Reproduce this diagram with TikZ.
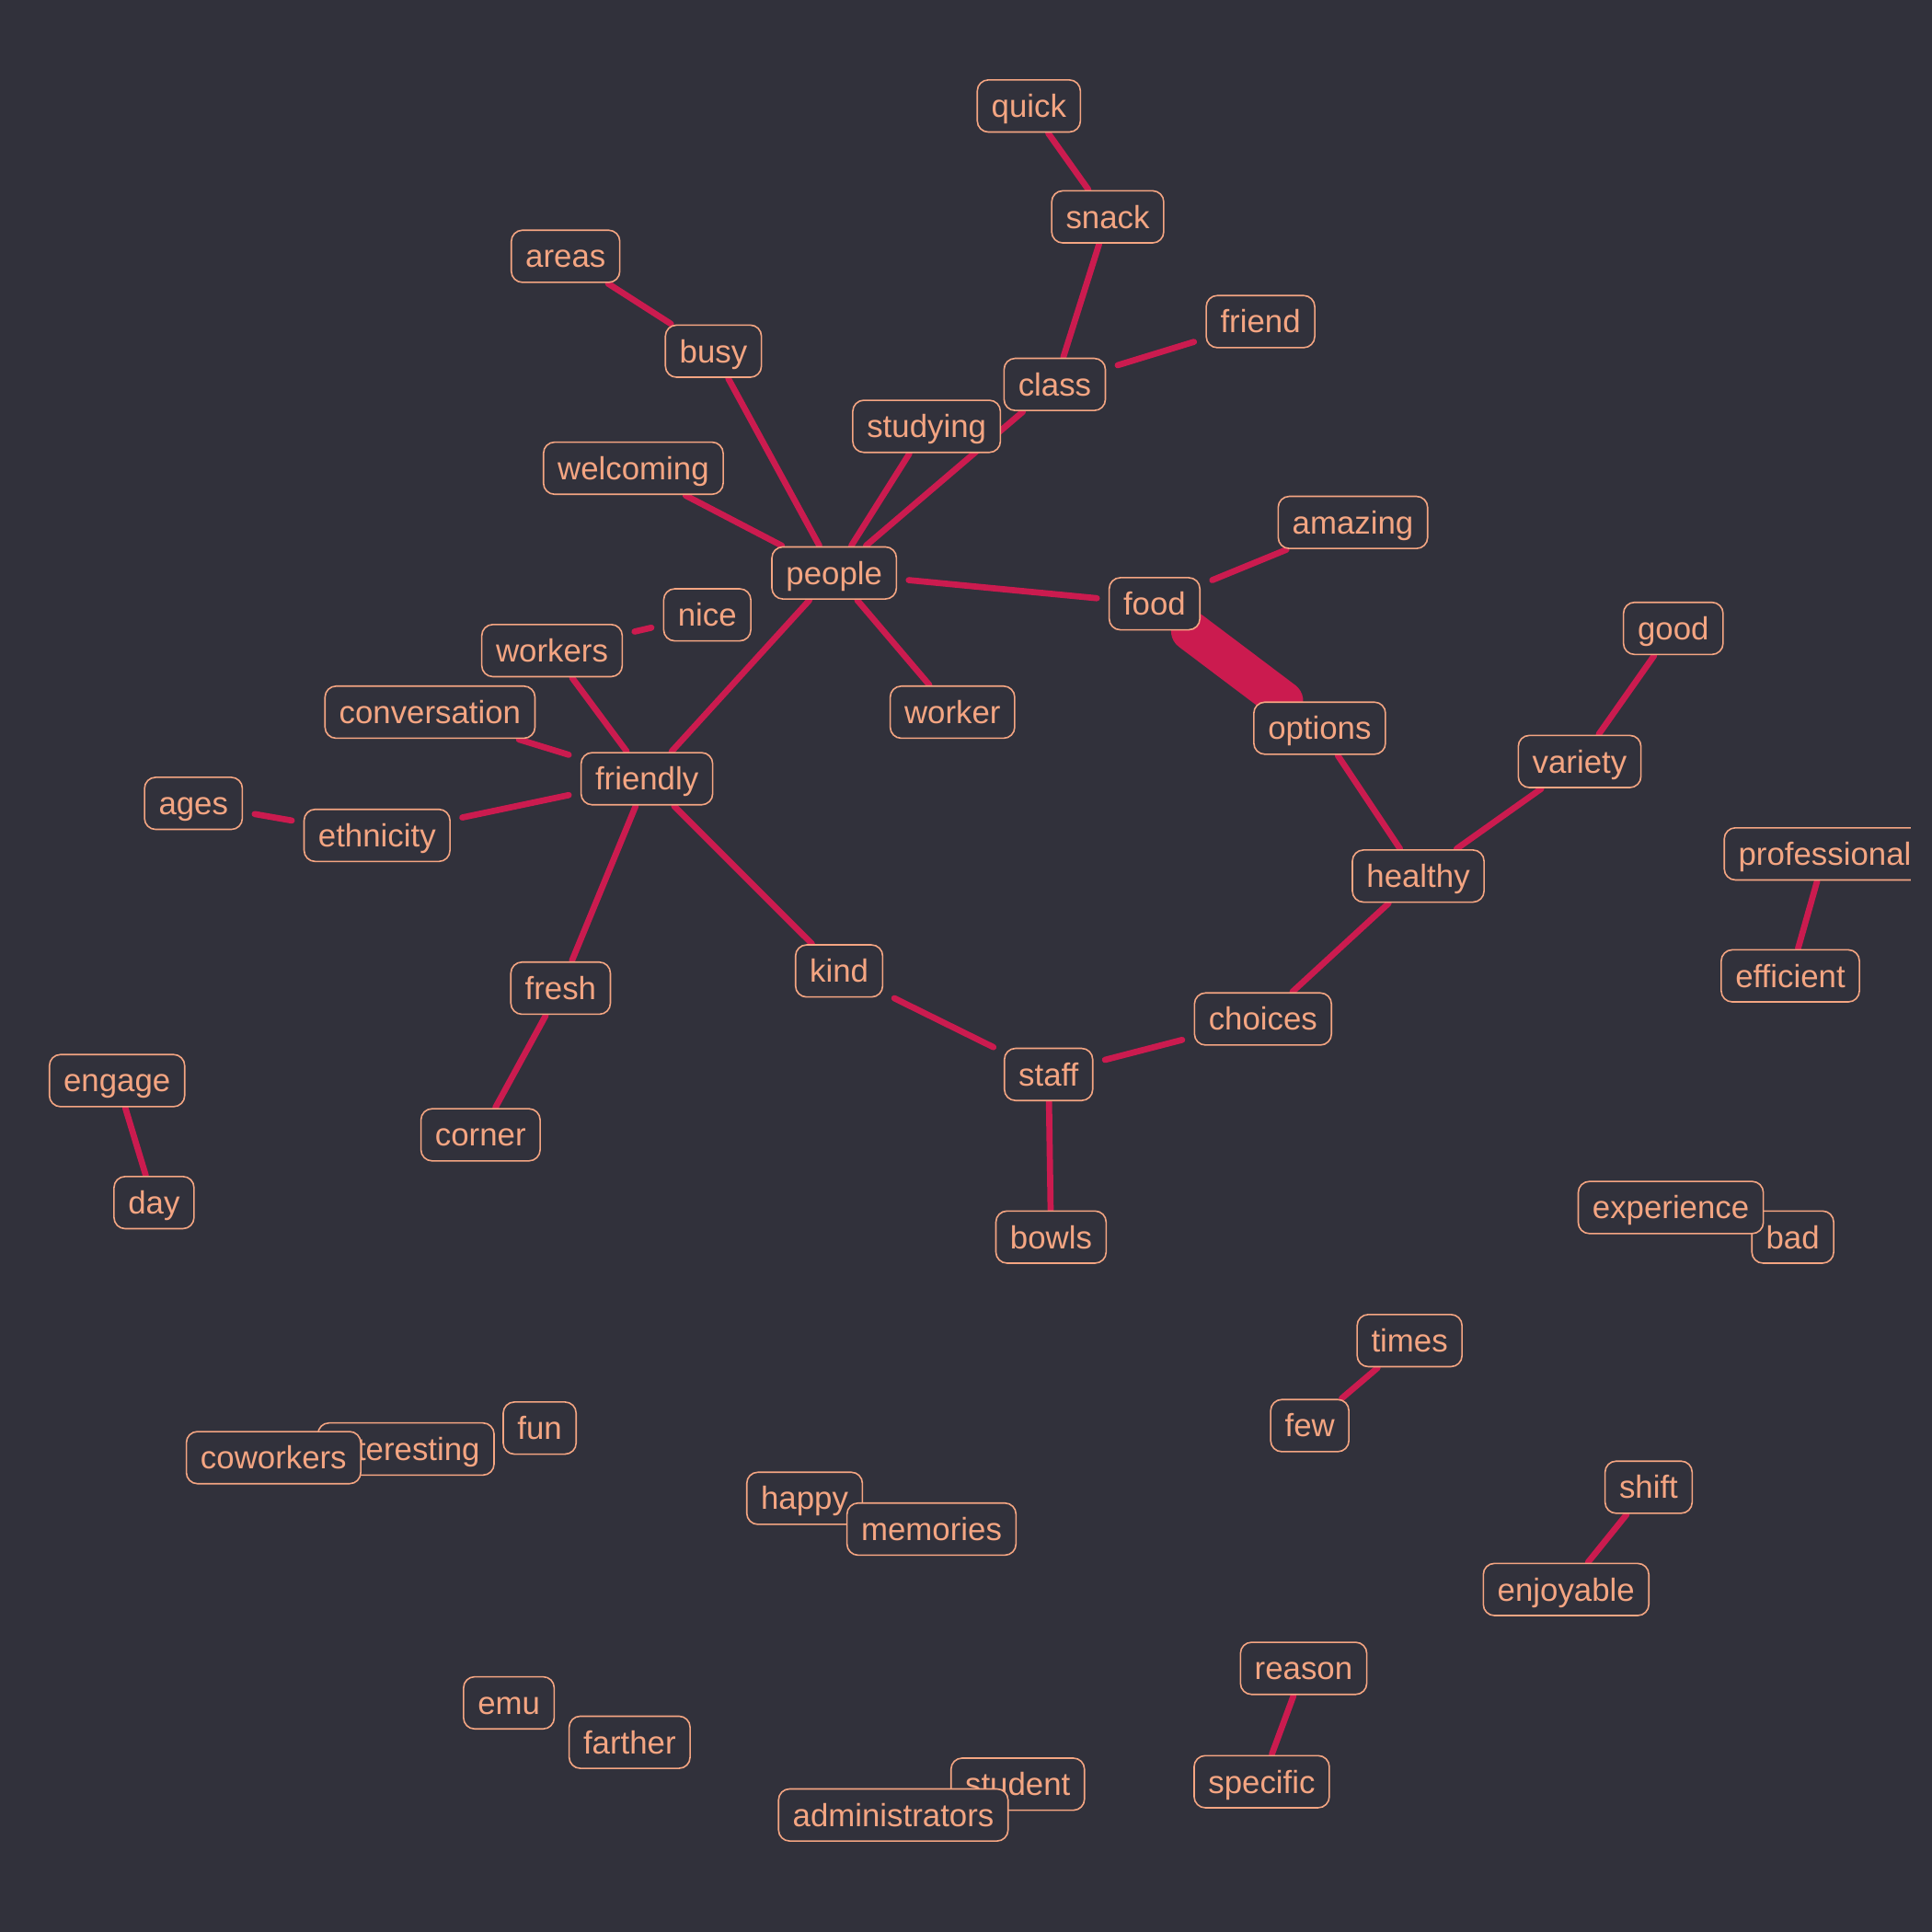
\documentclass[tikz,border=0pt]{standalone}
\usepackage{fontspec}
\setmainfont{Liberation Sans}
\definecolor{bgc}{HTML}{31313B}
\definecolor{txt}{HTML}{F4A582}
\definecolor{edg}{HTML}{CB1B4F}
\pgfdeclarelayer{bglayer}
\pgfdeclarelayer{edges}
\pgfsetlayers{bglayer,edges,main}
\begin{document}
\begin{tikzpicture}[x=1bp,y=-1bp,
  word/.style={draw=txt, text=txt, fill=bgc, rounded corners=9bp, line width=1.2bp,
    inner xsep=11.5bp, inner ysep=6.4bp, text height=24bp, text depth=5.5bp,
    outer xsep=10bp, outer ysep=1bp, font=\fontsize{26bp}{30bp}\selectfont},
  link/.style={draw=edg, line width=5bp, line cap=round},
  heavy/.style={draw=edg, line width=32bp, line cap=round}]
\begin{pgfonlayer}{bglayer}
\fill[bgc] (0,0) rectangle (1568,1568);
\end{pgfonlayer}
\useasboundingbox (0,0) rectangle (1568,1568);

\node[word] (quick) at (835,86) {quick};
\node[word] (snack) at (899,176) {snack};
\node[word] (areas) at (459,208) {areas};
\node[word] (friend) at (1023,261) {friend};
\node[word] (busy) at (579,285) {busy};
\node[word] (class) at (856,312) {class};
\node[word] (studying) at (752,346) {studying};
\node[word] (welcoming) at (514,380) {welcoming};
\node[word] (amazing) at (1098,424) {amazing};
\node[word] (people) at (677,465) {people};
\node[word] (food) at (937,490) {food};
\node[word] (nice) at (574,499) {nice};
\node[word] (good) at (1358,510) {good};
\node[word] (workers) at (448,528) {workers};
\node[word] (conversation) at (349,578) {conversation};
\node[word] (worker) at (773,578) {worker};
\node[word] (options) at (1071,591) {options};
\node[word] (variety) at (1282,618) {variety};
\node[word] (friendly) at (525,632) {friendly};
\node[word] (ages) at (157,652) {ages};
\node[word] (ethnicity) at (306,678) {ethnicity};
\node[word] (professional) at (1481,693) {professional};
\node[word] (healthy) at (1151,711) {healthy};
\node[word] (efficient) at (1453,792) {efficient};
\node[word] (fresh) at (455,802) {fresh};
\node[word] (kind) at (681,788) {kind};
\node[word] (choices) at (1025,827) {choices};
\node[word] (staff) at (851,872) {staff};
\node[word] (engage) at (95,877) {engage};
\node[word] (corner) at (390,921) {corner};
\node[word] (day) at (125,976) {day};
\node[word] (bowls) at (853,1004) {bowls};
\node[word] (bad) at (1455,1004) {bad};
\node[word] (experience) at (1356,980) {experience};
\node[word] (times) at (1144,1088) {times};
\node[word] (few) at (1063,1157) {few};
\node[word] (fun) at (438,1159) {fun};
\node[word] (interesting) at (329.5,1176) {interesting};
\node[word] (coworkers) at (222,1183) {coworkers};
\node[word] (shift) at (1338,1207) {shift};
\node[word] (happy) at (653,1216) {happy};
\node[word] (memories) at (756,1241) {memories};
\node[word] (enjoyable) at (1271,1290) {enjoyable};
\node[word] (reason) at (1058,1354) {reason};
\node[word] (emu) at (413,1382) {emu};
\node[word] (farther) at (511,1414) {farther};
\node[word] (student) at (826,1448) {student};
\node[word] (specific) at (1024,1446) {specific};
\node[word] (administrators) at (725,1473) {administrators};

\begin{pgfonlayer}{edges}
\draw[heavy] (food) -- (options);
\draw[link] (quick) -- (snack);
\draw[link] (snack) -- (class);
\draw[link] (class) -- (friend);
\draw[link] (class) -- (people);
\draw[link] (studying) -- (people);
\draw[link] (areas) -- (busy);
\draw[link] (busy) -- (people);
\draw[link] (welcoming) -- (people);
\draw[link] (people) -- (food);
\draw[link] (people) -- (friendly);
\draw[link] (people) -- (worker);
\draw[link] (food) -- (amazing);
\draw[link] (options) -- (healthy);
\draw[link] (healthy) -- (variety);
\draw[link] (variety) -- (good);
\draw[link] (healthy) -- (choices);
\draw[link] (choices) -- (staff);
\draw[link] (staff) -- (kind);
\draw[link] (staff) -- (bowls);
\draw[link] (kind) -- (friendly);
\draw[link] (friendly) -- (fresh);
\draw[link] (fresh) -- (corner);
\draw[link] (friendly) -- (ethnicity);
\draw[link] (ethnicity) -- (ages);
\draw[link] (friendly) -- (conversation);
\draw[link] (friendly) -- (workers);
\draw[link] (workers) -- (nice);
\draw[link] (professional) -- (efficient);
\draw[link] (engage) -- (day);
\draw[link] (times) -- (few);
\draw[link] (shift) -- (enjoyable);
\draw[link] (reason) -- (specific);
\end{pgfonlayer}

\fill[bgc] (1551,0) rectangle (1568,1568);
\end{tikzpicture}
\end{document}
